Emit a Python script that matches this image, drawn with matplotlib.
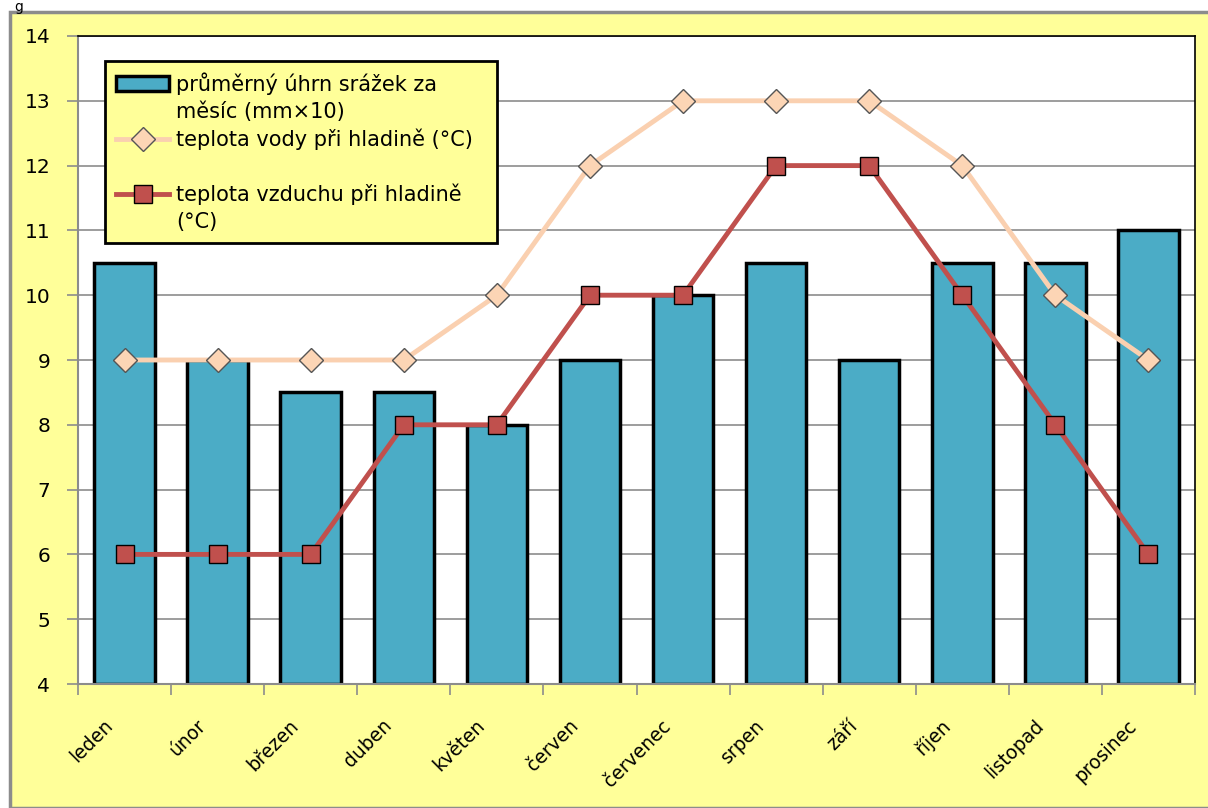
import numpy as np
import matplotlib.pyplot as plt

months = ['leden', 'únor', 'březen', 'duben', 'květen', 'červen',
          'červenec', 'srpen', 'září', 'říjen', 'listopad', 'prosinec']
srazky = [10.5, 9, 8.5, 8.5, 8, 9, 10, 10.5, 9, 10.5, 10.5, 11]
voda = [9, 9, 9, 9, 10, 12, 13, 13, 13, 12, 10, 9]
vzduch = [6, 6, 6, 8, 8, 10, 10, 12, 12, 10, 8, 6]

plt.rcParams['font.family'] = ['Verdana', 'DejaVu Sans']

fig = plt.figure(figsize=(12.08, 8.08), dpi=100)
fig.patch.set_facecolor('white')

# yellow chart panel with gray border
panel = plt.Rectangle((10 / 1208, 0), 1.0, 1 - 12 / 808, transform=fig.transFigure,
                      facecolor='#FFFF99', edgecolor='#8C8C8C', linewidth=2.5, zorder=-5)
fig.patches.append(panel)
fig.text(14 / 1208, 1.0, 'g', fontsize=10, va='top', ha='left')

ax = fig.add_axes([78 / 1208, 1 - 684 / 808, (1195 - 78) / 1208, (684 - 36) / 808])
ax.set_facecolor('white')

x = np.arange(len(months))
bars = ax.bar(x, np.array(srazky) - 4, bottom=4, width=0.65, color='#4BACC6',
              edgecolor='black', linewidth=2.5, zorder=2)
l_voda, = ax.plot(x, voda, color='#FAD0B0', linewidth=3.5, marker='D', markersize=12,
                  markerfacecolor='#FCD5B5', markeredgecolor='#555555',
                  markeredgewidth=1, zorder=3)
l_vzduch, = ax.plot(x, vzduch, color='#C0504D', linewidth=3.5, marker='s', markersize=13,
                    markerfacecolor='#C0504D', markeredgecolor='black',
                    markeredgewidth=1, zorder=4)

ax.set_xlim(-0.5, 11.5)
ax.set_ylim(4, 14)
ax.set_yticks(range(4, 15))
ax.yaxis.grid(True, color='#8C8C8C', linewidth=1.2)
ax.set_axisbelow(True)

ax.set_xticks(np.arange(-0.5, 12, 1))
ax.set_xticklabels([])
# month labels sit a bit left of the category centre, like the original
ax.set_xticks(x - 0.16, minor=True)
ax.set_xticklabels(months, minor=True, rotation=45, ha='right', va='center',
                   rotation_mode='anchor', fontsize=13.5)
ax.tick_params(axis='x', which='minor', length=0, pad=28)
ax.tick_params(axis='x', which='major', length=8, color='#8C8C8C', width=1.2)
ax.tick_params(axis='y', length=8, color='#8C8C8C', width=1.2, labelsize=14.5, pad=12)

for side in ['left', 'bottom']:
    ax.spines[side].set_color('#8C8C8C')
    ax.spines[side].set_linewidth(1.5)
for side in ['top', 'right']:
    ax.spines[side].set_color('black')
    ax.spines[side].set_linewidth(1.2)

blank = plt.Line2D([], [], linestyle='none')
handles = [bars, blank, l_voda, blank, l_vzduch, blank]
labels = ['průměrný úhrn srážek za', 'měsíc (mm×10)',
          'teplota vody při hladině (°C)  ', ' ',
          'teplota vzduchu při hladině', '(°C)']
leg = ax.legend(handles, labels, loc='upper left',
                bbox_to_anchor=(27 / 1117, 1 - 25 / 648),
                fontsize=15, frameon=True, fancybox=False, handlelength=2.5,
                handletextpad=0.35, labelspacing=0.32, borderpad=0.55,
                borderaxespad=0)
leg.get_frame().set_facecolor('#FFFF99')
leg.get_frame().set_edgecolor('black')
leg.get_frame().set_linewidth(2)
leg.get_frame().set_alpha(1)

fig.savefig('out.png', dpi=100)
